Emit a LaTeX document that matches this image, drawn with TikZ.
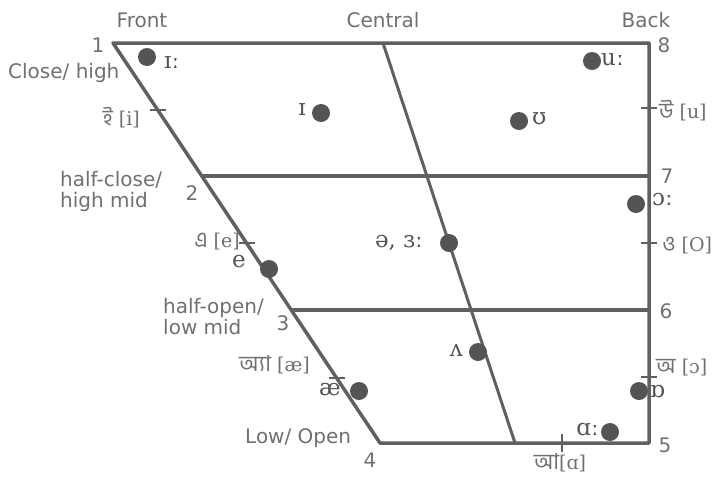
\documentclass[tikz,border=0pt]{standalone}
\usepackage{fontspec}
\setmainfont{DejaVu Sans}
\newfontfamily\ipafont{DejaVu Serif}
\newfontfamily\bnfont[Script=Bengali]{Hind Siliguri}
\usepackage{xcolor}
\definecolor{chartline}{RGB}{96, 96, 96}
\definecolor{charttext}{RGB}{112, 112, 112}
\definecolor{chartdot}{RGB}{84, 84, 84}
\usetikzlibrary{positioning}

\newcommand{\bnletter}[1]{{\bnfont\fontsize{22}{22}\selectfont #1}}

\begin{document}
\begin{tikzpicture}[
    x=1pt, y=-1pt,
    frame/.style={line width=3.5pt, draw=chartline, line join=round},
    tickmark/.style={line width=2.5pt, draw=chartline},
    vowel/.style={circle, fill=chartdot, inner sep=0pt, minimum size=18pt},
    ipa/.style={font=\ipafont\fontsize{23}{23}\selectfont, text=chartdot, inner sep=0pt, text height=1ex, text depth=0pt},
    lab/.style={font=\fontsize{20}{21}\selectfont, text=charttext, inner sep=0pt, align=left},
    bnlab/.style={font=\ipafont\fontsize{19}{19}\selectfont, text=charttext, inner sep=0pt}
]
\useasboundingbox (0,0) rectangle (714,480);

% === Esquinas del cuadrilatero ===
\coordinate (c1) at (113,43);
\coordinate (c2) at (202,176);
\coordinate (c3) at (292,310);
\coordinate (c4) at (380,443);
\coordinate (c5) at (649,443);
\coordinate (c6) at (649,310);
\coordinate (c7) at (649,176);
\coordinate (c8) at (649,43);
\coordinate (ctop) at (383,43);
\coordinate (cbot) at (515,443);

% === Marco ===
\draw[frame] (c1) -- (c8) -- (c5) -- (c4) -- cycle;
\draw[frame] (c2) -- (c7);
\draw[frame] (c3) -- (c6);
\draw[frame, line width=3pt] (ctop) -- (cbot);

% === Marcas ===
\coordinate (ti) at (158,110);
\coordinate (te) at (247,243);
\coordinate (tae) at (337,378);
\coordinate (tu) at (649,108);
\coordinate (to) at (649,243);
\coordinate (toh) at (649,377);
\coordinate (ta) at (562,443);
\foreach \t in {ti, te, tae, tu, to, toh}
    \draw[tickmark] (\t) ++(-8,0) -- ++(16,0);
\draw[tickmark] (ta) ++(0,-9) -- ++(0,18);

% === Vocales ===
\node[vowel] (iilong) at (147,57) {};
\node[vowel] (ishort) at (321,113) {};
\node[vowel] (uulong) at (592,61) {};
\node[vowel] (ushort) at (519,121) {};
\node[vowel] (oolong) at (636,204) {};
\node[vowel] (schwa) at (449,243) {};
\node[vowel] (eshort) at (269,269) {};
\node[vowel] (wedge) at (478,352) {};
\node[vowel] (ash) at (359,391) {};
\node[vowel] (oshort) at (639,391) {};
\node[vowel] (aalong) at (610,432) {};

\node[ipa, anchor=west] (iilab) at (164,66) {ɪː};
\node[ipa, anchor=east] (ilab) at (306,113) {ɪ};
\node[ipa, anchor=west] (uulab) at (601,63) {uː};
\node[ipa, anchor=west] (ulab) at (532,122) {ʊ};
\node[ipa, anchor=west] (oolab) at (652,203) {ɔː};
\node[ipa, anchor=east] (schwalab) at (423,245) {ə, ɜː};
\node[ipa, anchor=east] (elab) at (246,265) {e};
\node[ipa, anchor=east] (wedgelab) at (463,354) {ʌ};
\node[ipa, anchor=east] (ashlab) at (341,393) {æ};
\node[ipa, anchor=west] (olab) at (650,395) {ɒ};
\node[ipa, anchor=east] (aalab) at (599,433) {ɑː};

% === Etiquetas bengalies ===
\node[bnlab, anchor=base east] (bni) at (140,125) {\bnletter{ই} [i]};
\node[bnlab, anchor=base west] (bnu) at (659,118) {\bnletter{উ} [u]};
\node[bnlab, anchor=base east] (bne) at (240,247) {\bnletter{এ} [e]};
\node[bnlab, anchor=base west] (bno) at (662,251) {\bnletter{ও} [O]};
\node[bnlab, anchor=base east] (bnae) at (310,371) {\bnletter{অ্যা} [æ]};
\node[bnlab, anchor=base west] (bnoh) at (656,373) {\bnletter{অ} [ɔ]};
\node[bnlab, anchor=base] (bna) at (560,469) {\bnletter{আ}[ɑ]};

% === Etiquetas ===
\node[lab, anchor=base] (front) at (142,27) {Front};
\node[lab, anchor=base] (central) at (383,27) {Central};
\node[lab, anchor=base] (back) at (646,27) {Back};
\node[lab, anchor=base west] (close) at (8,78) {Close/ high};
\node[lab, anchor=north west] (halfclose) at (60,171) {half-close/\\high mid};
\node[lab, anchor=north west] (halfopen) at (163,298) {half-open/\\low mid};
\node[lab, anchor=base west] (open) at (245,443) {Low/ Open};

% === Numeros ===
\node[lab, anchor=base] (n1) at (98,52) {1};
\node[lab, anchor=base] (n2) at (192,200) {2};
\node[lab, anchor=base] (n3) at (283,330) {3};
\node[lab, anchor=base] (n4) at (370,467) {4};
\node[lab, anchor=base] (n5) at (665,452) {5};
\node[lab, anchor=base] (n6) at (666,318) {6};
\node[lab, anchor=base] (n7) at (667,183) {7};
\node[lab, anchor=base] (n8) at (664,52) {8};

\end{tikzpicture}
\end{document}
